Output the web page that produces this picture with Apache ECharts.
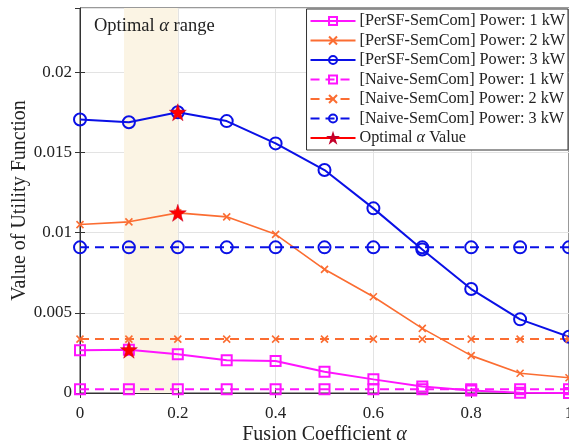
<!DOCTYPE html>
<html>
<head>
<meta charset="utf-8">
<script src="https://cdn.jsdelivr.net/npm/echarts@6/dist/echarts.min.js"></script>
<style>
  html, body { margin: 0; padding: 0; background: #fff; }
  #chart { width: 569px; height: 444px; }
</style>
</head>
<body>
<div id="chart"></div>
<script>
// Fusion coefficient sweep
const alpha = [0, 0.1, 0.2, 0.3, 0.4, 0.5, 0.6, 0.7, 0.8, 0.9, 1.0];

// PerSF-SemCom utility per transmit power
const persf1 = [0.00266, 0.0027, 0.00241, 0.00204, 0.0020, 0.00133, 0.00085, 0.0004, 0.00015, 0.00002, 0.0];
const persf2 = [0.0105, 0.01067, 0.01123, 0.01098, 0.00989, 0.00771, 0.0060, 0.00403, 0.00233, 0.00123, 0.00095];
const persf3 = [0.01705, 0.01688, 0.0175, 0.01695, 0.01556, 0.0139, 0.01151, 0.00895, 0.00648, 0.00459, 0.00351];

// Naive-SemCom utility (flat in alpha)
const naive1 = [0.00023, 0.00023, 0.00023, 0.00023, 0.00023, 0.00023, 0.00023, 0.00023, 0.00023, 0.00023, 0.00023];
const naive2 = [0.00336, 0.00336, 0.00336, 0.00336, 0.00336, 0.00336, 0.00336, 0.00336, 0.00336, 0.00336, 0.00336];
const naive3 = [0.00908, 0.00908, 0.00908, 0.00908, 0.00908, 0.00908, 0.00908, 0.00908, 0.00908, 0.00908, 0.00908];

// Optimal alpha for each power level
const optAlpha = [0.1, 0.2, 0.2];
const optValue = [0.0027, 0.01123, 0.0175];

// Shaded optimal range
const bandRange = [0.09, 0.2];

const xTicks = [0, 0.2, 0.4, 0.6, 0.8, 1];
const yTicks = [0, 0.005, 0.01, 0.015, 0.02];

const names = [
  '[PerSF-SemCom] Power: 1 kW',
  '[PerSF-SemCom] Power: 2 kW',
  '[PerSF-SemCom] Power: 3 kW',
  '[Naive-SemCom] Power: 1 kW',
  '[Naive-SemCom] Power: 2 kW',
  '[Naive-SemCom] Power: 3 kW',
  'Optimal α Value'
];

const MAGENTA = '#ff14ff';
const ORANGE = '#fb6d32';
const BLUE = '#0a10e6';
const RED = '#ff0000';
const FONT = '"Liberation Serif", "DejaVu Serif", serif';

const pairs = arr => arr.map((v, i) => [alpha[i], v]);
const crossPath = 'path://M0,0L10,10M0,10L10,0';

function lineSeries(name, data, color, symbol, size, width, dashed) {
  const isCross = symbol === crossPath;
  return {
    name: name,
    type: 'line',
    data: pairs(data),
    symbol: symbol,
    symbolSize: size,
    showAllSymbol: true,
    z: 3,
    lineStyle: { color: color, width: width, type: dashed ? [9, 6] : 'solid' },
    itemStyle: isCross
      ? { color: color, borderColor: color, borderWidth: 1.6 }
      : { color: 'rgba(255,255,255,0)', borderColor: color, borderWidth: 2 },
    emphasis: { disabled: true }
  };
}

const optData = [];
optAlpha.forEach((a, i) => {
  if (i > 0) optData.push('-');
  optData.push([a, optValue[i]]);
});

const chart = echarts.init(document.getElementById('chart'), null, { renderer: 'canvas' });

chart.setOption({
  animation: false,
  backgroundColor: '#fff',
  title: {
    text: 'Optimal {i|α} range',
    left: 89,
    top: 12,
    textStyle: {
      fontFamily: FONT, fontSize: 18.5, fontWeight: 'normal', color: '#222',
      rich: { i: { fontFamily: FONT, fontStyle: 'italic', fontSize: 18.5, color: '#222' } }
    }
  },
  grid: {
    left: 80, right: 0, top: 8, bottom: 51,
    outerBoundsMode: 'none',
    containLabel: false,
    show: true, borderColor: '#333', borderWidth: 1
  },
  legend: {
    orient: 'vertical',
    right: 1,
    top: 9,
    data: names,
    backgroundColor: '#fff',
    borderColor: '#333',
    borderWidth: 1,
    borderRadius: 0,
    padding: [4, 3, 4, 3],
    itemGap: 3.5,
    itemWidth: 45,
    itemHeight: 10,
    textStyle: {
      fontFamily: FONT, fontSize: 16.2, color: '#222', padding: [0, 0, 0, -1],
      rich: { i: { fontFamily: FONT, fontStyle: 'italic', fontSize: 16.2 } }
    },
    formatter: n => n.replace('α', '{i|α}')
  },
  xAxis: [{
    type: 'value',
    min: 0, max: 1, interval: 0.2,
    name: 'Fusion Coefficient {i|α}',
    nameLocation: 'middle',
    nameGap: 32,
    nameMoveOverlap: false,
    nameTextStyle: {
      fontFamily: FONT, fontSize: 20, color: '#222',
      rich: { i: { fontFamily: FONT, fontStyle: 'italic', fontSize: 20 } }
    },
    axisLine: { show: true, lineStyle: { color: '#333', width: 1 } },
    axisTick: { show: true, inside: true, length: 5, lineStyle: { color: '#333' } },
    axisLabel: {
      fontFamily: FONT, fontSize: 17, color: '#222', margin: 12,
      formatter: v => xTicks.includes(+v.toFixed(2)) ? String(+v.toFixed(2)) : ''
    },
    splitLine: { show: true, lineStyle: { color: '#e3e3e3', width: 1 } }
  }, {
    type: 'value', position: 'top',
    min: 0, max: 1, interval: 0.2,
    axisLine: { show: false },
    axisTick: { show: true, inside: true, length: 5, lineStyle: { color: '#333' } },
    axisLabel: { show: false },
    splitLine: { show: false }
  }],
  yAxis: [{
    type: 'value',
    min: 0, max: 0.024, interval: 0.005,
    name: 'Value of Utility Function',
    nameLocation: 'middle',
    nameGap: 50,
    nameMoveOverlap: false,
    nameTextStyle: { fontFamily: FONT, fontSize: 20, color: '#222' },
    axisLine: { show: true, lineStyle: { color: '#333', width: 1 } },
    axisTick: { show: true, inside: true, length: 5, lineStyle: { color: '#333' } },
    axisLabel: {
      fontFamily: FONT, fontSize: 17, color: '#222', margin: 8,
      showMaxLabel: false,
      formatter: v => yTicks.includes(+v.toFixed(4)) ? String(+v.toFixed(4)) : ''
    },
    splitLine: { show: true, lineStyle: { color: '#e3e3e3', width: 1 } }
  }, {
    type: 'value', position: 'right',
    min: 0, max: 0.024, interval: 0.005,
    axisLine: { show: false },
    axisTick: { show: true, inside: true, length: 5, lineStyle: { color: '#333' } },
    axisLabel: { show: false },
    splitLine: { show: false }
  }],
  series: [
    {
      name: 'band',
      type: 'line',
      data: [],
      z: 1,
      silent: true,
      markArea: {
        silent: true,
        itemStyle: { color: '#fbf4e4' },
        data: [[{ xAxis: bandRange[0] }, { xAxis: bandRange[1] }]]
      }
    },
    lineSeries(names[0], persf1, MAGENTA, 'rect', 10, 2, false),
    lineSeries(names[1], persf2, ORANGE, crossPath, 7, 1.6, false),
    lineSeries(names[2], persf3, BLUE, 'circle', 12, 2, false),
    lineSeries(names[3], naive1, MAGENTA, 'rect', 10, 2, true),
    lineSeries(names[4], naive2, ORANGE, crossPath, 7, 2, true),
    lineSeries(names[5], naive3, BLUE, 'circle', 12, 2, true),
    {
      name: names[6],
      type: 'line',
      data: optData,
      connectNulls: false,
      symbol: 'path://M50,0L61.8,35.5L100,36.2L69.1,58.8L80.9,95.1L50,73L19.1,95.1L30.9,58.8L0,36.2L38.2,35.5Z',
      symbolSize: 17,
      z: 5,
      lineStyle: { color: RED, width: 2 },
      itemStyle: { color: RED, borderColor: '#c4002a', borderWidth: 0.5 },
      emphasis: { disabled: true }
    }
  ]
});
</script>
</body>
</html>
